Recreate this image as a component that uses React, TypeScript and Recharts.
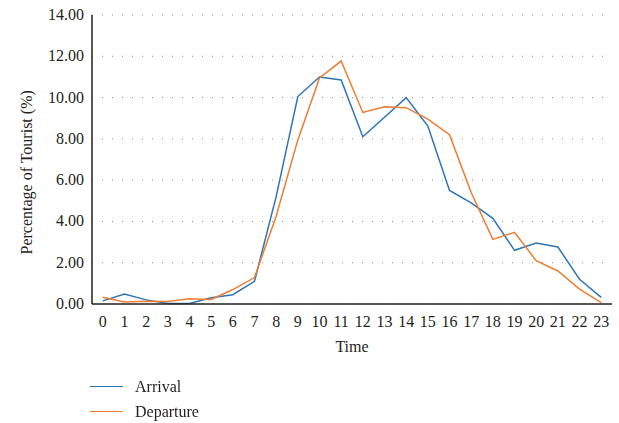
import { LineChart, Line, XAxis, YAxis, CartesianGrid, Legend } from 'recharts';

const hours = ['0', '1', '2', '3', '4', '5', '6', '7', '8', '9', '10', '11', '12', '13', '14', '15', '16', '17', '18', '19', '20', '21', '22', '23'];
const arrival = [0.15, 0.48, 0.2, 0.03, 0.03, 0.3, 0.45, 1.1, 5.2, 10.05, 11.0, 10.85, 8.1, 9.05, 10.0, 8.62, 5.5, 4.9, 4.15, 2.6, 2.95, 2.76, 1.2, 0.32];
const departure = [0.33, 0.1, 0.13, 0.12, 0.25, 0.22, 0.7, 1.28, 4.25, 7.95, 10.95, 11.77, 9.28, 9.56, 9.51, 8.96, 8.2, 5.4, 3.13, 3.47, 2.1, 1.6, 0.72, 0.07];
const yTicks = [0, 2, 4, 6, 8, 10, 12, 14];

const series = [
  { key: 'arrival', label: 'Arrival', color: '#2e75b6' },
  { key: 'departure', label: 'Departure', color: '#ed7d31' },
];

const data = hours.map((h, i) => ({ hour: h, arrival: arrival[i], departure: departure[i] }));

const FONT = '"Liberation Serif", "DejaVu Serif", serif';
const TEXT = '#231f20';

function XTick({ x, y, payload }: any) {
  return (
    <text x={x} y={y + 13} textAnchor="middle" fontFamily={FONT} fontSize={16} fill={TEXT}>
      {payload.value}
    </text>
  );
}

function YTick({ x, y, payload }: any) {
  return (
    <text x={x + 6} y={y + 5} textAnchor="end" fontFamily={FONT} fontSize={16} fill={TEXT}>
      {Number(payload.value).toFixed(2)}
    </text>
  );
}

function LegendBox() {
  return (
    <div style={{ fontFamily: FONT, fontSize: 16, color: TEXT }}>
      {series.map((s) => (
        <div key={s.key} style={{ display: 'flex', alignItems: 'center', height: 25 }}>
          <span style={{ display: 'inline-block', width: 33, height: 0, borderTop: `1.5px solid ${s.color}`, marginRight: 12 }} />
          {s.label}
        </div>
      ))}
    </div>
  );
}

export default function App() {
  return (
    <div style={{ position: 'fixed', left: 0, top: 0, width: 619, height: 423, background: '#fff', fontFamily: FONT }}>
      <LineChart width={619} height={423} data={data} margin={{ top: 15, right: 7, bottom: 71, left: 0 }}>
        <CartesianGrid vertical={false} stroke="#8c8c8c" strokeDasharray="1 9" />
        <XAxis
          dataKey="hour"
          padding={{ left: 10.8, right: 10.8 }}
          tickLine={false}
          axisLine={{ stroke: '#231f20', strokeWidth: 1.5 }}
          tick={<XTick />}
          tickMargin={4}
          interval={0}
          height={48}
          label={{ value: 'Time', position: 'insideBottom', offset: 0, fontSize: 16, fill: TEXT, fontFamily: FONT }}
        />
        <YAxis
          domain={[0, 14]}
          ticks={yTicks}
          width={92}
          tickLine={false}
          axisLine={{ stroke: '#231f20', strokeWidth: 1.5 }}
          tick={<YTick />}
          tickMargin={8}
          label={{ value: 'Percentage of Tourist (%)', angle: -90, position: 'insideLeft', offset: 26, dy: 95, fontSize: 16, fill: TEXT, fontFamily: FONT }}
        />
        <Legend
          layout="vertical"
          align="center"
          verticalAlign="middle"
          wrapperStyle={{ left: 90, top: 374, width: 200 }}
          content={() => <LegendBox />}
        />
        {series.map((s) => (
          <Line
            key={s.key}
            type="linear"
            dataKey={s.key}
            name={s.label}
            stroke={s.color}
            strokeWidth={1.5}
            dot={false}
            isAnimationActive={false}
          />
        ))}
      </LineChart>
    </div>
  );
}
